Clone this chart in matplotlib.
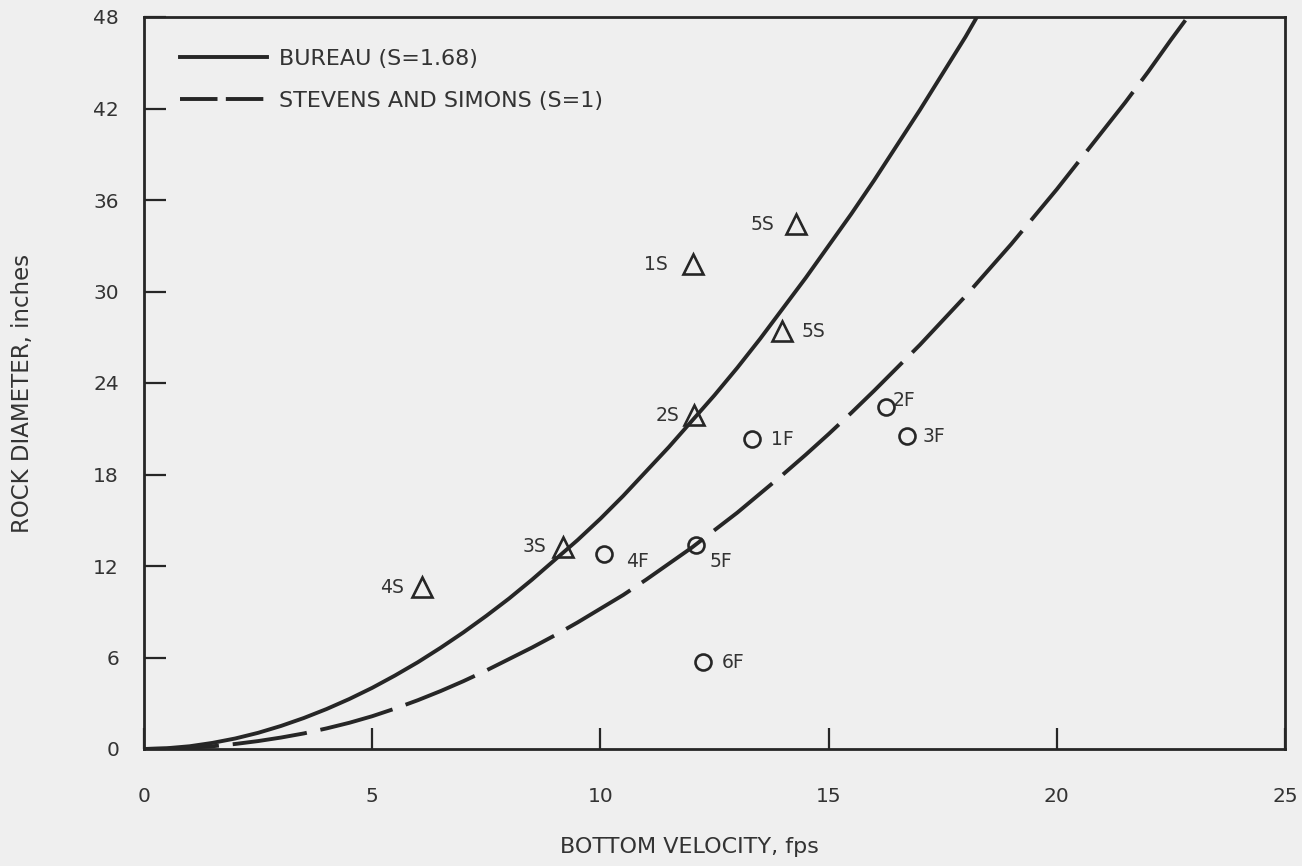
import matplotlib
matplotlib.use("Agg")
import matplotlib.pyplot as plt
from matplotlib.lines import Line2D

# --- curve readings: rock diameter (in) vs bottom velocity (fps) ---
bureau_v = [0, 0.5, 1, 1.5, 2, 2.5, 3, 3.5, 4, 4.5, 5, 5.5, 6, 6.5, 7, 7.5, 8,
            8.5, 9, 9.5, 10, 10.5, 11, 11.5, 12, 12.5, 13, 13.5, 14, 14.5, 15,
            15.5, 16, 16.5, 17, 17.5, 18, 18.25]
bureau_d = [0, 0.05, 0.18, 0.40, 0.69, 1.06, 1.51, 2.03, 2.62, 3.28, 4.01,
            4.82, 5.69, 6.64, 7.65, 8.73, 9.87, 11.1, 12.4, 13.7, 15.1, 16.6,
            18.2, 19.8, 21.5, 23.2, 25.0, 26.9, 28.9, 30.9, 33.0, 35.1, 37.3,
            39.6, 41.9, 44.3, 46.7, 48.0]

stevens_v = [0, 0.5, 1, 1.5, 2, 2.5, 3, 3.5, 4, 4.5, 5, 5.5, 6, 6.5, 7, 7.5, 8,
             8.5, 9, 9.5, 10, 10.5, 11, 11.5, 12, 12.5, 13, 13.5, 14, 14.5, 15,
             15.5, 16, 16.5, 17, 17.5, 18, 18.5, 19, 19.5, 20, 20.5, 21, 21.5,
             22, 22.5, 22.87]
stevens_d = [0, 0.02, 0.08, 0.18, 0.33, 0.52, 0.75, 1.02, 1.35, 1.72, 2.15,
             2.65, 3.2, 3.8, 4.45, 5.15, 5.9, 6.65, 7.45, 8.3, 9.2, 10.1, 11.1,
             12.15, 13.2, 14.35, 15.5, 16.75, 18.0, 19.3, 20.65, 22.05, 23.5,
             25.0, 26.5, 28.1, 29.7, 31.4, 33.1, 34.9, 36.7, 38.6, 40.5, 42.4,
             44.4, 46.5, 48.0]

# --- field observations ---
stone_labels = ["5S", "1S", "5S", "2S", "3S", "4S"]
stone_v = [14.29, 12.03, 13.98, 12.05, 9.18, 6.09]
stone_d = [34.4, 31.8, 27.4, 21.9, 13.25, 10.6]

fail_labels = ["1F", "2F", "3F", "4F", "5F", "6F"]
fail_v = [13.32, 16.26, 16.72, 10.08, 12.09, 12.25]
fail_d = [20.3, 22.4, 20.5, 12.8, 13.4, 5.7]

x_ticks = [0, 5, 10, 15, 20, 25]
y_ticks = [0, 6, 12, 18, 24, 30, 36, 42, 48]

legend_labels = ["BUREAU (S=1.68)", "STEVENS AND SIMONS (S=1)"]

# label placement (pixel offsets from each marker, alignment)
stone_offsets = [(-22, 0, "right"), (-25, 0, "right"), (20, 0, "left"),
                 (-15, 0, "right"), (-17, 0, "right"), (-18, 0, "right")]
fail_offsets = [(19, 0, "left"), (7, 7, "left"), (15, 0, "left"),
                (22, -8, "left"), (14, -17, "left"), (19, 0, "left")]

ink = "#262626"
text_ink = "#333333"
paper = "#efefef"

plt.rcParams["font.family"] = ["DejaVu Sans"]
plt.rcParams["lines.scale_dashes"] = False

fig = plt.figure(figsize=(13.02, 8.66), dpi=100, facecolor=paper)
ax = fig.add_axes([144 / 1302, 1 - 749 / 866, 1141 / 1302, 732 / 866])
ax.set_facecolor(paper)

ax.plot(bureau_v, bureau_d, color=ink, lw=2.8, solid_capstyle="butt",
        solid_joinstyle="round")
ax.plot(stevens_v, stevens_d, color=ink, lw=2.8, dashes=(54, 10),
        dash_capstyle="butt", dash_joinstyle="round")

ax.plot(stone_v, stone_d, linestyle="none", marker="^", ms=14,
        mfc="none", mec=ink, mew=1.9)
ax.plot(fail_v, fail_d, linestyle="none", marker="o", ms=11.5,
        mfc="none", mec=ink, mew=1.9)

for lab, v, d, (dx, dy, ha) in zip(stone_labels, stone_v, stone_d, stone_offsets):
    ax.annotate(lab, (v, d), xytext=(dx, dy), textcoords="offset pixels",
                ha=ha, va="center", fontsize=13.5, color=text_ink)
for lab, v, d, (dx, dy, ha) in zip(fail_labels, fail_v, fail_d, fail_offsets):
    ax.annotate(lab, (v, d), xytext=(dx, dy), textcoords="offset pixels",
                ha=ha, va="center", fontsize=13.5, color=text_ink)

ax.set_xlim(0, 25)
ax.set_ylim(0, 48)
ax.set_xticks(x_ticks)
ax.set_yticks(y_ticks)
ax.tick_params(axis="both", direction="in", color=ink, width=1.6,
               labelsize=14.5, labelcolor=text_ink)
ax.tick_params(axis="y", length=16, pad=18)
ax.tick_params(axis="x", length=15, pad=27)
for s in ax.spines.values():
    s.set_linewidth(2.0)
    s.set_color(ink)

ax.set_xlabel("BOTTOM VELOCITY, fps", fontsize=16, color=text_ink)
ax.xaxis.set_label_coords((689 - 144) / 1141, -(837 - 749) / 732)
ax.set_ylabel("ROCK DIAMETER, inches", fontsize=16.5, color=text_ink)
ax.yaxis.set_label_coords((34 - 144) / 1141, (749 - 393) / 732)

handles = [Line2D([], [], color=ink, lw=2.8),
           Line2D([], [], color=ink, lw=2.8, dashes=(27, 6))]
leg = ax.legend(handles, legend_labels, loc="upper left",
                bbox_to_anchor=((180 - 144) / 1141, (749 - 49) / 732),
                frameon=False, fontsize=16, handlelength=3.9,
                handletextpad=0.55, labelspacing=1.0, borderaxespad=0,
                borderpad=0)
for t in leg.get_texts():
    t.set_color(text_ink)

fig.savefig("out.png", dpi=100, facecolor=paper)
